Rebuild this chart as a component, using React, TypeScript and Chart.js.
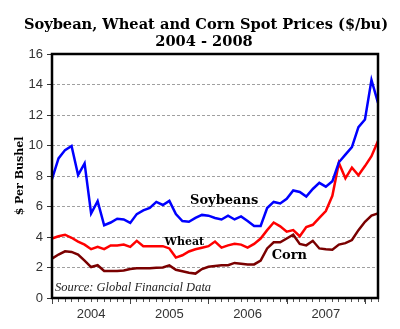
import { useEffect, useRef } from 'react';
import { Chart, registerables } from 'chart.js';

Chart.register(...registerables);

const months = [
  'Jan 2004', 'Feb 2004', 'Mar 2004', 'Apr 2004', 'May 2004', 'Jun 2004', 'Jul 2004', 'Aug 2004', 'Sep 2004', 'Oct 2004', 'Nov 2004', 'Dec 2004',
  'Jan 2005', 'Feb 2005', 'Mar 2005', 'Apr 2005', 'May 2005', 'Jun 2005', 'Jul 2005', 'Aug 2005', 'Sep 2005', 'Oct 2005', 'Nov 2005', 'Dec 2005',
  'Jan 2006', 'Feb 2006', 'Mar 2006', 'Apr 2006', 'May 2006', 'Jun 2006', 'Jul 2006', 'Aug 2006', 'Sep 2006', 'Oct 2006', 'Nov 2006', 'Dec 2006',
  'Jan 2007', 'Feb 2007', 'Mar 2007', 'Apr 2007', 'May 2007', 'Jun 2007', 'Jul 2007', 'Aug 2007', 'Sep 2007', 'Oct 2007', 'Nov 2007', 'Dec 2007',
  'Jan 2008', 'Feb 2008', 'Mar 2008',
];

const yearLabels = ['2004', '2005', '2006', '2007'];

const soybeans = [
  7.8, 9.15, 9.7, 9.97, 8.06, 8.83, 5.54, 6.35, 4.77, 4.95, 5.2, 5.15,
  4.92, 5.5, 5.75, 5.9, 6.3, 6.1, 6.37, 5.5, 5.05, 5.0, 5.25, 5.45,
  5.4, 5.25, 5.15, 5.4, 5.15, 5.35, 5.05, 4.72, 4.72, 5.9, 6.3, 6.2,
  6.5, 7.05, 6.95, 6.65, 7.15, 7.55, 7.3, 7.65, 8.9, 9.4, 9.9, 11.2,
  11.7, 14.3, 12.8,
];

const wheat = [
  3.9, 4.05, 4.15, 3.95, 3.7, 3.5, 3.2, 3.35, 3.2, 3.45, 3.45, 3.5,
  3.35, 3.75, 3.4, 3.4, 3.4, 3.4, 3.25, 2.65, 2.8, 3.05, 3.2, 3.3,
  3.4, 3.7, 3.3, 3.45, 3.55, 3.5, 3.3, 3.55, 3.9, 4.45, 4.95, 4.7,
  4.35, 4.45, 4.05, 4.65, 4.8, 5.25, 5.7, 6.7, 8.85, 7.85, 8.55, 8.05,
  8.65, 9.3, 10.3,
];

const corn = [
  2.58, 2.85, 3.06, 3.02, 2.85, 2.45, 2.03, 2.15, 1.77, 1.77, 1.77, 1.8,
  1.9, 1.95, 1.95, 1.95, 1.98, 2.0, 2.14, 1.85, 1.75, 1.65, 1.6, 1.9,
  2.05, 2.1, 2.15, 2.15, 2.3, 2.25, 2.2, 2.2, 2.45, 3.25, 3.65, 3.65,
  3.9, 4.15, 3.55, 3.45, 3.75, 3.25, 3.2, 3.17, 3.5, 3.6, 3.8, 4.45,
  5.0, 5.4, 5.55,
];

const titleLines = ['Soybean, Wheat and Corn Spot Prices ($/bu)', '2004 - 2008'];
const yAxisTitle = '$ Per Bushel';
const sourceText = 'Source: Global Financial Data';
const seriesLabels = [
  { text: 'Soybeans', month: 26.4, value: 6.4, size: 13 },
  { text: 'Wheat', month: 20.3, value: 3.67, size: 11 },
  { text: 'Corn', month: 36.4, value: 2.8, size: 13 },
];

export default function App() {
  const ref = useRef<HTMLCanvasElement | null>(null);

  useEffect(() => {
    document.body.style.margin = '0';
    const canvas = ref.current;
    if (!canvas) return;

    const decor = {
      id: 'decor',
      afterDatasetsDraw(chart: any) {
        const { ctx, chartArea } = chart;
        const xs = chart.scales.x;
        ctx.save();
        ctx.strokeStyle = '#444';
        ctx.lineWidth = 1;
        for (let i = 0; i < months.length; i += 12) {
          const px = Math.round(xs.getPixelForValue(i)) + 0.5;
          ctx.beginPath();
          ctx.moveTo(px, chartArea.bottom);
          ctx.lineTo(px, chartArea.bottom + 6);
          ctx.stroke();
        }
        ctx.strokeStyle = '#000';
        ctx.lineWidth = 2.5;
        ctx.strokeRect(chartArea.left, chartArea.top, chartArea.right - chartArea.left, chartArea.bottom - chartArea.top);
        ctx.restore();
      },
      afterDraw(chart: any) {
        const { ctx, chartArea } = chart;
        const xs = chart.scales.x;
        const ys = chart.scales.y;
        ctx.save();
        ctx.fillStyle = '#000';
        ctx.textAlign = 'center';
        ctx.textBaseline = 'middle';
        ctx.font = 'bold 14.6px "DejaVu Serif"';
        ctx.fillText(titleLines[0], 206, 25);
        ctx.fillText(titleLines[1], 204, 42);
        for (const l of seriesLabels) {
          ctx.font = `bold ${l.size}px "DejaVu Serif"`;
          ctx.fillText(l.text, xs.getPixelForValue(l.month), ys.getPixelForValue(l.value));
        }
        ctx.textAlign = 'left';
        ctx.font = 'italic 12.5px "Liberation Serif"';
        ctx.fillStyle = '#222';
        ctx.fillText(sourceText, chartArea.left + 3, chartArea.bottom - 10);
        ctx.restore();
      },
    };

    const chart = new Chart(canvas, {
      type: 'line',
      data: {
        labels: months,
        datasets: [
          { label: 'Soybeans', data: soybeans, borderColor: '#0000ff', borderWidth: 2.5, pointRadius: 0, tension: 0 },
          { label: 'Wheat', data: wheat, borderColor: '#ff0000', borderWidth: 2.5, pointRadius: 0, tension: 0 },
          { label: 'Corn', data: corn, borderColor: '#7a0000', borderWidth: 2.5, pointRadius: 0, tension: 0 },
        ],
      },
      options: {
        responsive: false,
        animation: false,
        devicePixelRatio: 1,
        layout: { padding: { top: 54, right: 22, left: 0, bottom: 0 } },
        plugins: {
          legend: { display: false },
          title: { display: false },
          tooltip: { enabled: false },
        },
        scales: {
          x: {
            type: 'category',
            offset: false,
            grid: {
              drawOnChartArea: false,
              drawTicks: true,
              tickLength: 4,
              tickColor: '#555',
              tickWidth: 1,
            },
            border: { display: false },
            ticks: {
              autoSkip: false,
              maxRotation: 0,
              minRotation: 0,
              padding: 5,
              color: '#333',
              font: { family: '"Liberation Sans", Arial, sans-serif', size: 13 },
              callback: (_v: any, i: number) => (i % 12 === 6 ? yearLabels[Math.floor(i / 12)] : ''),
            },
            afterFit: (s: any) => { s.height = 31; },
          },
          y: {
            min: 0,
            max: 16,
            grid: {
              color: (c: any) => (c.tick && (c.tick.value === 0 || c.tick.value === 16) ? 'rgba(0,0,0,0)' : '#a0a0a0'),
              lineWidth: 1,
              tickLength: 5,
              tickColor: '#333',
              tickBorderDash: [],
            },
            border: { display: false, dash: [3, 2] },
            ticks: {
              stepSize: 2,
              padding: 4,
              color: '#333',
              font: { family: '"Liberation Sans", Arial, sans-serif', size: 13 },
            },
            title: {
              display: true,
              text: yAxisTitle,
              color: '#000',
              font: { family: '"DejaVu Serif"', weight: 'bold', size: 11 },
              padding: { top: 14, bottom: 0 },
            },
            afterFit: (s: any) => { s.width = 52; },
          },
        },
      },
      plugins: [decor],
    });

    return () => chart.destroy();
  }, []);

  return (
    <div style={{ width: 400, height: 329 }}>
      <canvas ref={ref} width={400} height={329} style={{ display: 'block' }} />
    </div>
  );
}
